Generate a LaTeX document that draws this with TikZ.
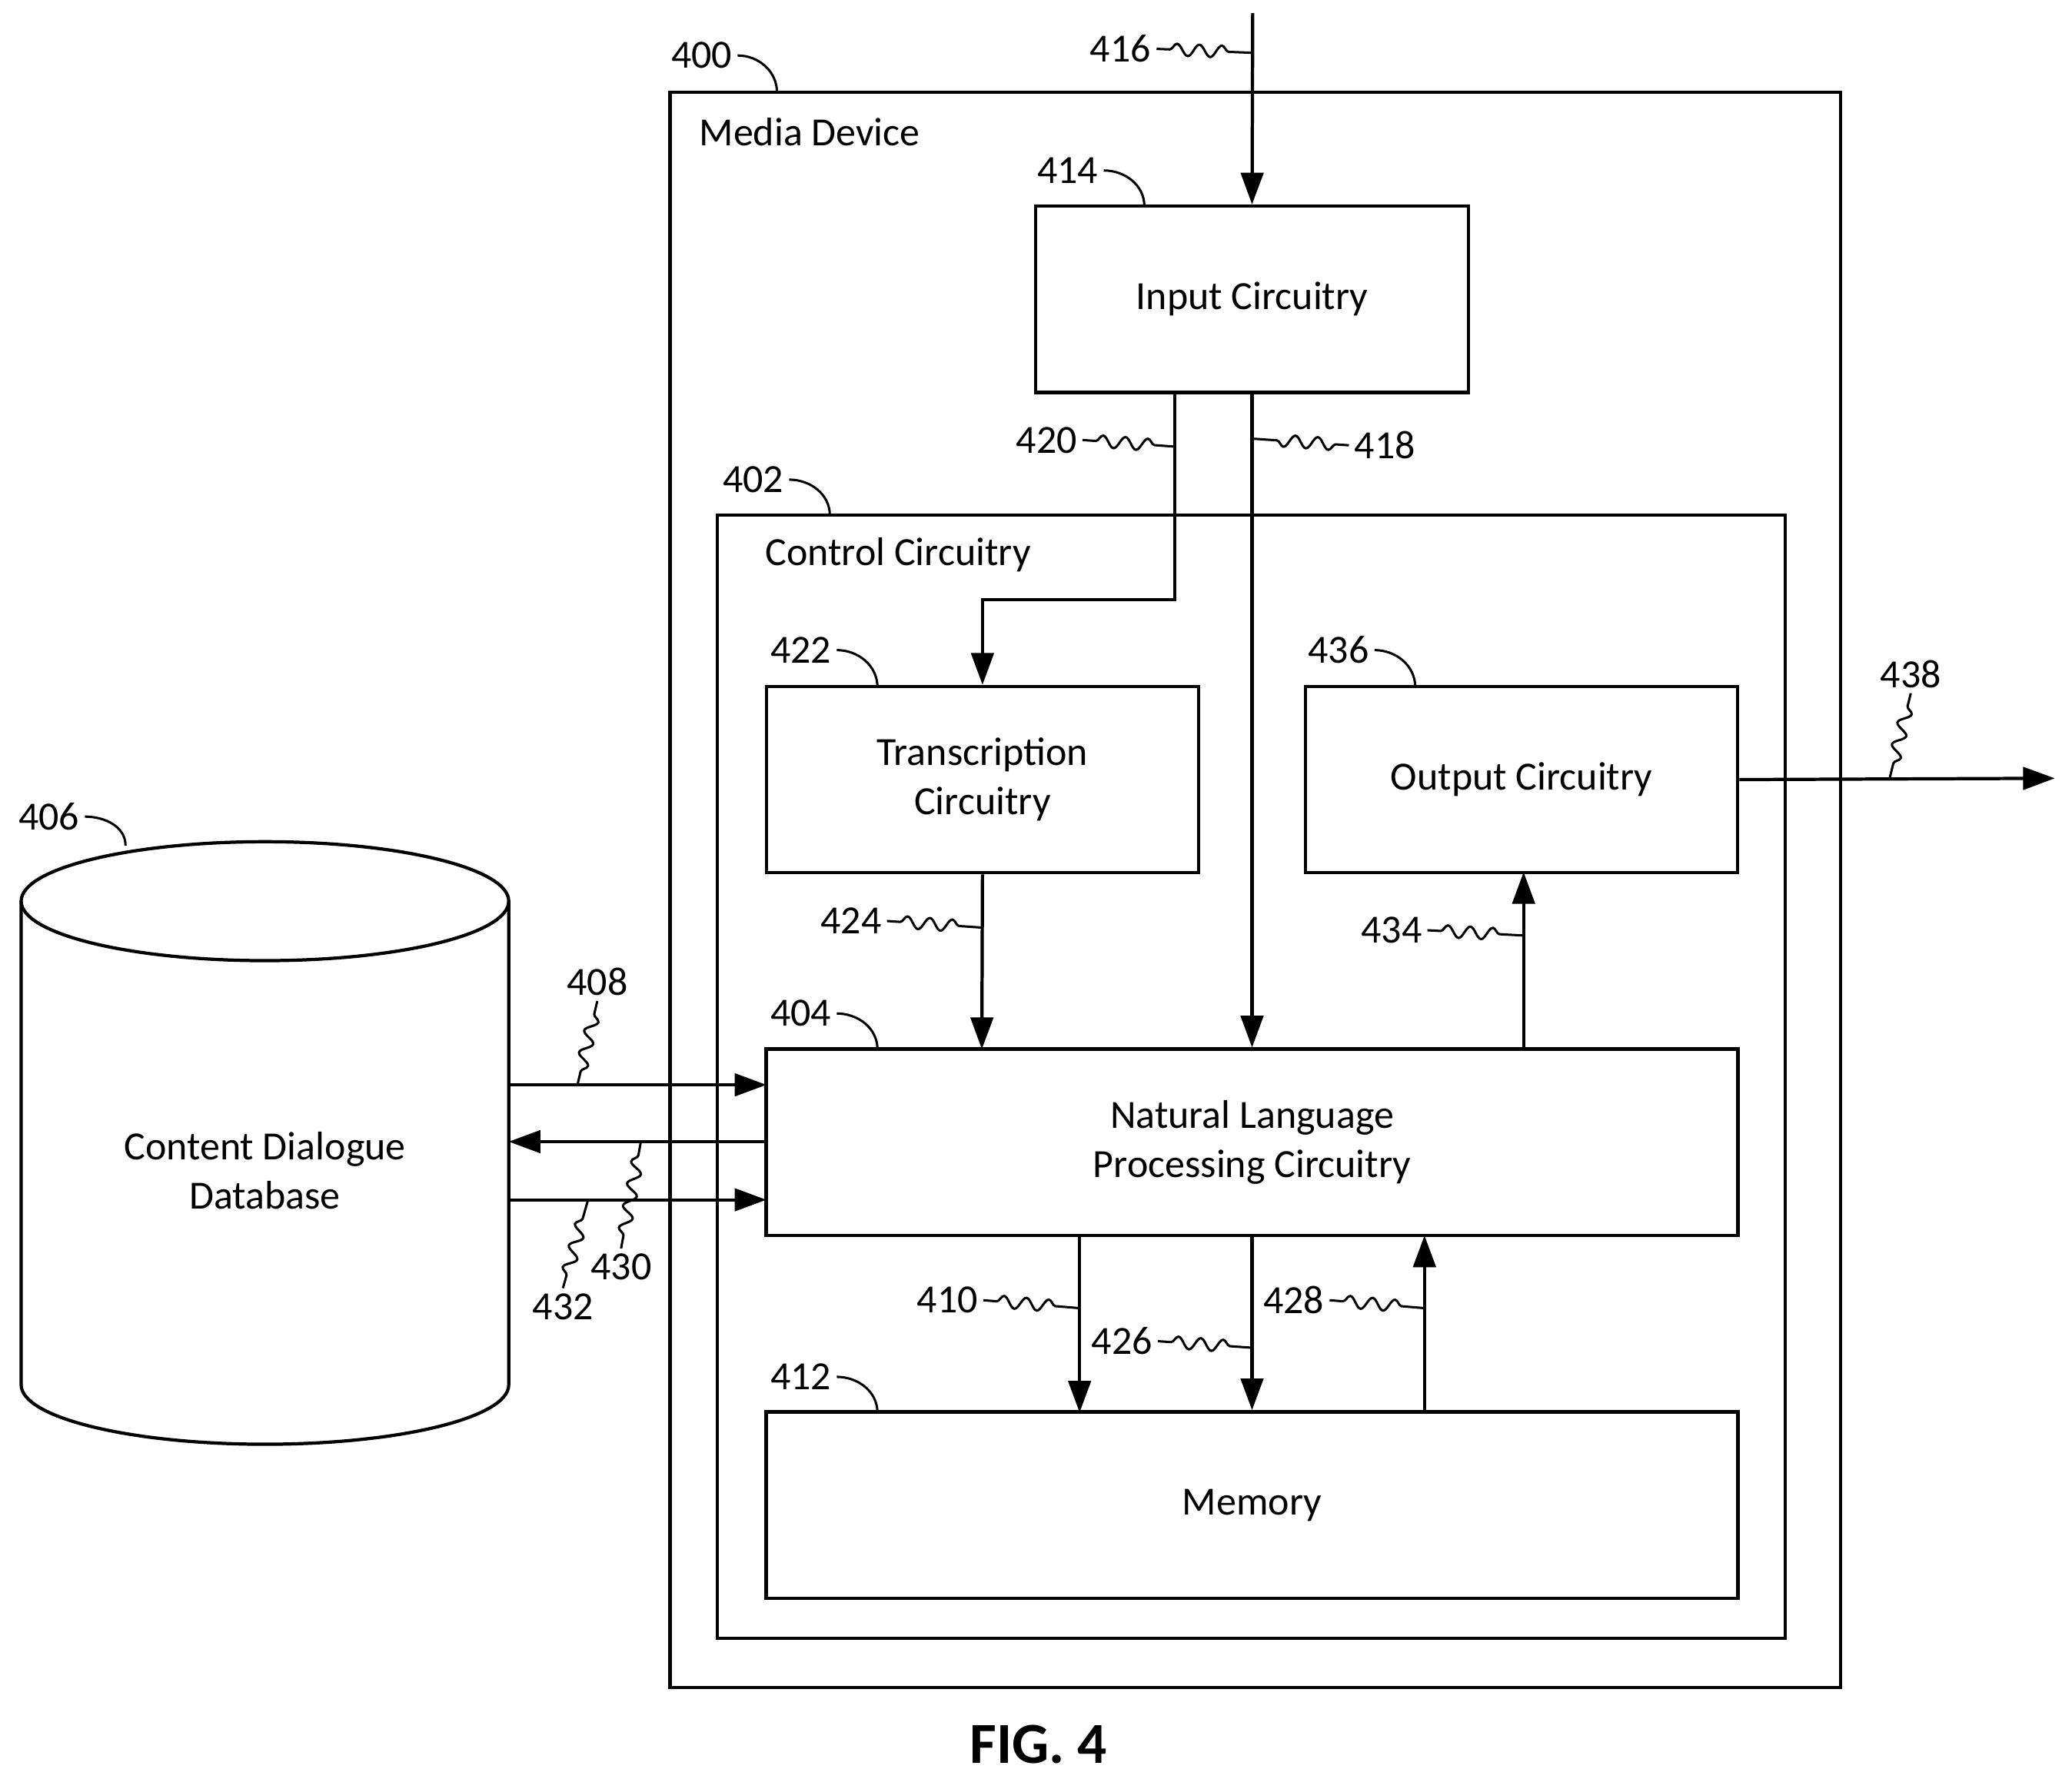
\documentclass[tikz,border=0pt]{standalone}
\usepackage{fontspec}
\setmainfont{Carlito}
\usetikzlibrary{arrows.meta,decorations.pathmorphing}
\tikzset{
  box/.style={draw,line width=0.7pt},
  blk/.style={draw,line width=0.7pt,minimum width=3.27cm,minimum height=1.41cm,align=center,font=\fontsize{8.6}{10.6}\selectfont},
  num/.style={font=\fontsize{8.6}{10}\selectfont,inner sep=1pt},
  sig/.style={line width=0.7pt,-{Triangle[length=0.24cm,width=0.17cm]}},
  lead/.style={line width=0.5pt,decorate,decoration={snake,segment length=0.17cm,amplitude=0.045cm,pre length=0.1cm,post length=0.1cm}}
}
\begin{document}
\begin{tikzpicture}[x=0.01cm,y=-0.01cm]
  \useasboundingbox (0,0) rectangle (1568,1346);

  % outer frames
  \draw[box] (507,70) rectangle (1393,1277);
  \node[num,anchor=west,font=\fontsize{8.6}{10}\selectfont] (mdev) at (525,100) {Media Device};
  \draw[box] (543,390) rectangle (1351,1240);
  \node[num,anchor=west,font=\fontsize{8.6}{10}\selectfont] (ctrl) at (575,420) {Control Circuitry};

  % blocks
  \node[blk] (inp) at (947.5,226.5) {Input Circuitry};
  \node[blk] (trans) at (743.5,590) {Transcription\\Circuitry};
  \node[blk] (outc) at (1151.5,590) {Output Circuitry};
  \node[blk,minimum width=7.35cm] (nlp) at (947.5,864.5) {Natural Language\\Processing Circuitry};
  \node[blk,minimum width=7.35cm] (mem) at (947.5,1139) {Memory};

  % database
  \draw[line width=0.7pt] (200.5,682) ellipse (184.5 and 45);
  \draw[line width=0.7pt] (16,682) -- (16,1048) arc[start angle=180,end angle=0,x radius=184.5,y radius=45] -- (385,682);
  \node[blk,draw=none] (db) at (200.5,886) {Content Dialogue\\Database};

  % connectors
  \coordinate (src) at (948,10);
  \coordinate (bend) at (889,454);
  \coordinate (dst) at (1555,589);
  \draw[sig] (src) -- (inp.north);
  \draw[sig] (889,297) -- (bend) -| (trans.north);
  \draw[sig] (inp.south) -- (nlp.north);
  \draw[sig] (trans.south) -- (743,794);
  \draw[sig] (1153,794) -- (1153,660);
  \draw[sig] (outc.east) -- (dst);
  \draw[sig] (385,821) -- (580,821);
  \draw[sig] (580,864) -- (385,864);
  \draw[sig] (385,908) -- (580,908);
  \draw[sig] (817,935) -- (817,1069);
  \draw[sig] (nlp.south) -- (mem.north);
  \draw[sig] (1078,1069) -- (1078,935);

  % reference numerals
  \node[num] (n400) at (531,42) {400};
  \draw[line width=0.5pt] (n400.east) to[out=0,in=90] (588,70);
  \node[num] (n402) at (570,363) {402};
  \draw[line width=0.5pt] (n402.east) to[out=0,in=90] (628,390);
  \node[num] (n414) at (808,129) {414};
  \draw[line width=0.5pt] (n414.east) to[out=0,in=90] (866,156);
  \node[num] (n422) at (606,492) {422};
  \draw[line width=0.5pt] (n422.east) to[out=0,in=90] (664,520);
  \node[num] (n436) at (1013,492) {436};
  \draw[line width=0.5pt] (n436.east) to[out=0,in=90] (1071,520);
  \node[num] (n404) at (606,767) {404};
  \draw[line width=0.5pt] (n404.east) to[out=0,in=90] (664,794);
  \node[num] (n412) at (606,1042) {412};
  \draw[line width=0.5pt] (n412.east) to[out=0,in=90] (664,1069);
  \node[num] (n406) at (37,618) {406};
  \draw[line width=0.5pt] (n406.east) to[out=0,in=90] (95,640);

  \node[num] (n416) at (848,37) {416};
  \draw[lead] (n416.east) -- (948,40);
  \node[num] (n420) at (792,333) {420};
  \draw[lead] (n420.east) -- (889,338);
  \node[num] (n418) at (1048,337) {418};
  \draw[lead] (n418.west) -- (948,332);
  \node[num] (n424) at (644,697) {424};
  \draw[lead] (n424.east) -- (743,702);
  \node[num] (n434) at (1053,704) {434};
  \draw[lead] (n434.east) -- (1153,708);
  \node[num] (n438) at (1446,510) {438};
  \draw[lead] (n438.south) -- (1430,589);
  \node[num] (n408) at (452,743) {408};
  \draw[lead] (n408.south) -- (437,821);
  \node[num] (n430) at (470,959) {430};
  \draw[lead] (n430.north) -- (485,864);
  \node[num] (n432) at (426,989) {432};
  \draw[lead] (n432.north) -- (445,908);
  \node[num] (n410) at (717,984) {410};
  \draw[lead] (n410.east) -- (817,990);
  \node[num] (n426) at (849,1015) {426};
  \draw[lead] (n426.east) -- (948,1020);
  \node[num] (n428) at (979,984) {428};
  \draw[lead] (n428.east) -- (1078,990);

  \node[font=\bfseries\fontsize{12.5}{14}\selectfont] (fig) at (786,1320) {FIG. 4};
\end{tikzpicture}
\end{document}
